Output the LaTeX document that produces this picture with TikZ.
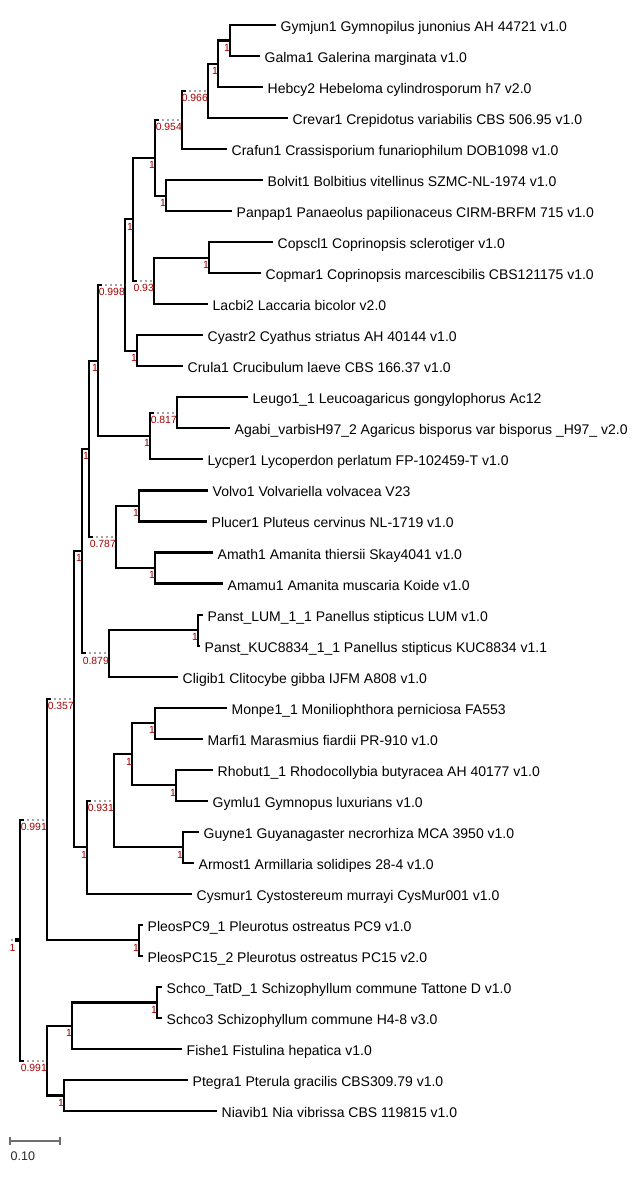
\documentclass[tikz,border=0pt]{standalone}
\usepackage{fontspec}
\setmainfont{Liberation Sans}
\usepackage{tikz}
\usetikzlibrary{calc}
\definecolor{suppred}{RGB}{165,0,0}
\definecolor{dotgrey}{RGB}{165,165,165}
\definecolor{bargrey}{RGB}{110,110,110}
\pgfmathdeclarefunction{ry}{1}{\pgfmathparse{25+31.03*#1}}

\begin{document}
\begin{tikzpicture}[
        x=1pt, y=-1pt,
        branch/.style={line width=2.1pt},
        weakbranch/.style={line width=2.1pt, dotgrey, dash pattern=on 2pt off 3pt},
        leaf/.style={anchor=base west, inner sep=0pt, font=\fontsize{14}{16}\selectfont},
        support/.style={anchor=base east, inner sep=0pt, text=suppred, font=\fontsize{10.4}{12}\selectfont},
        scalebar/.style={line width=1.3pt, bargrey}
    ]
        \useasboundingbox (0,0) rectangle (639,1186);
        % leaf tips
        \coordinate (gymjun) at (276,{ry(0)});
        \coordinate (galma) at (260,{ry(1)});
        \coordinate (hebcy) at (263,{ry(2)});
        \coordinate (crevar) at (288,{ry(3)});
        \coordinate (crafun) at (227,{ry(4)});
        \coordinate (bolvit) at (263,{ry(5)});
        \coordinate (panpap) at (232,{ry(6)});
        \coordinate (copscl) at (273,{ry(7)});
        \coordinate (copmar) at (261,{ry(8)});
        \coordinate (lacbi) at (208,{ry(9)});
        \coordinate (cyastr) at (203,{ry(10)});
        \coordinate (crula) at (183,{ry(11)});
        \coordinate (leugo) at (248,{ry(12)});
        \coordinate (agabi) at (230,{ry(13)});
        \coordinate (lycper) at (203,{ry(14)});
        \coordinate (volvo) at (208,{ry(15)});
        \coordinate (plucer) at (207,{ry(16)});
        \coordinate (amath) at (213,{ry(17)});
        \coordinate (amamu) at (223,{ry(18)});
        \coordinate (panstlum) at (203,{ry(19)});
        \coordinate (panstkuc) at (200,{ry(20)});
        \coordinate (cligib) at (178,{ry(21)});
        \coordinate (monpe) at (227,{ry(22)});
        \coordinate (marfi) at (203,{ry(23)});
        \coordinate (rhobut) at (213,{ry(24)});
        \coordinate (gymlu) at (208,{ry(25)});
        \coordinate (guyne) at (199,{ry(26)});
        \coordinate (armost) at (194,{ry(27)});
        \coordinate (cysmur) at (192,{ry(28)});
        \coordinate (pleosnine) at (143,{ry(29)});
        \coordinate (pleosfifteen) at (143,{ry(30)});
        \coordinate (schcotatd) at (162,{ry(31)});
        \coordinate (schcothree) at (162,{ry(32)});
        \coordinate (fishe) at (182,{ry(33)});
        \coordinate (ptegra) at (188,{ry(34)});
        \coordinate (niavib) at (217,{ry(35)});
        % inner nodes
        \coordinate (nA) at (230,{ry(0.5)});
        \coordinate (nB) at (218,{ry(1.25)});
        \coordinate (nC) at (208,{ry(2.125)});
        \coordinate (nD) at (182,{ry(3.0625)});
        \coordinate (nE) at (166,{ry(5.5)});
        \coordinate (nF) at (155,{ry(4.281)});
        \coordinate (nG) at (209,{ry(7.5)});
        \coordinate (nH) at (154,{ry(8.25)});
        \coordinate (nI) at (133,{ry(6.266)});
        \coordinate (nJ) at (137,{ry(10.5)});
        \coordinate (nK) at (125,{ry(8.383)});
        \coordinate (nL) at (177,{ry(12.5)});
        \coordinate (nM) at (150,{ry(13.25)});
        \coordinate (nN) at (98,{ry(10.816)});
        \coordinate (nO) at (139,{ry(15.5)});
        \coordinate (nP) at (155,{ry(17.5)});
        \coordinate (nQ) at (116,{ry(16.5)});
        \coordinate (nR) at (89,{ry(13.658)});
        \coordinate (nS) at (198,{ry(19.5)});
        \coordinate (nT) at (109,{ry(20.25)});
        \coordinate (nU) at (82,{ry(16.954)});
        \coordinate (nV) at (155,{ry(22.5)});
        \coordinate (nW) at (176,{ry(24.5)});
        \coordinate (nX) at (132,{ry(23.5)});
        \coordinate (nY) at (183,{ry(26.5)});
        \coordinate (nZ) at (114,{ry(25)});
        \coordinate (nAA) at (87,{ry(26.5)});
        \coordinate (nAB) at (74,{ry(21.727)});
        \coordinate (nPL) at (139,{ry(29.5)});
        \coordinate (nAC) at (47,{ry(25.614)});
        \coordinate (nSC) at (157,{ry(31.5)});
        \coordinate (nAD) at (72,{ry(32.25)});
        \coordinate (nAE) at (64,{ry(34.5)});
        \coordinate (nAF) at (47,{ry(33.375)});
        \coordinate (root) at (20,{ry(29.494)});
        % branches
        \draw[branch] (gymjun) -| (nA) |- (galma);
        \draw[branch] (nA) -| (nB) |- (hebcy);
        \draw[branch] (nB) -| (nC) |- (crevar);
        \draw[branch] ($(nD |- nC)+(4,0)$) -| (nD) |- (crafun);
        \draw[weakbranch] ($(nD |- nC)+(7,0)$) -- (nC);
        \draw[branch] (bolvit) -| (nE) |- (panpap);
        \draw[branch] ($(nF |- nD)+(4,0)$) -| (nF) |- (nE);
        \draw[weakbranch] ($(nF |- nD)+(7,0)$) -- (nD);
        \draw[branch] (copscl) -| (nG) |- (copmar);
        \draw[branch] (nG) -| (nH) |- (lacbi);
        \draw[branch] (nF) -| (nI) |- ($(nI |- nH)+(4,0)$);
        \draw[weakbranch] ($(nI |- nH)+(7,0)$) -- (nH);
        \draw[branch] (cyastr) -| (nJ) |- (crula);
        \draw[branch] (nI) -| (nK) |- (nJ);
        \draw[branch] (leugo) -| (nL) |- (agabi);
        \draw[branch] ($(nM |- nL)+(4,0)$) -| (nM) |- (lycper);
        \draw[weakbranch] ($(nM |- nL)+(7,0)$) -- (nL);
        \draw[branch] ($(nN |- nK)+(4,0)$) -| (nN) |- (nM);
        \draw[weakbranch] ($(nN |- nK)+(7,0)$) -- (nK);
        \draw[branch] (volvo) -| (nO) |- (plucer);
        \draw[branch] (amath) -| (nP) |- (amamu);
        \draw[branch] (nO) -| (nQ) |- (nP);
        \draw[branch] (nN) -| (nR) |- ($(nR |- nQ)+(4,0)$);
        \draw[weakbranch] ($(nR |- nQ)+(7,0)$) -- (nQ);
        \draw[branch] (panstlum) -| (nS) |- (panstkuc);
        \draw[branch] (nS) -| (nT) |- (cligib);
        \draw[branch] (nR) -| (nU) |- ($(nU |- nT)+(4,0)$);
        \draw[weakbranch] ($(nU |- nT)+(7,0)$) -- (nT);
        \draw[branch] (monpe) -| (nV) |- (marfi);
        \draw[branch] (rhobut) -| (nW) |- (gymlu);
        \draw[branch] (nV) -| (nX) |- (nW);
        \draw[branch] (guyne) -| (nY) |- (armost);
        \draw[branch] (nX) -| (nZ) |- (nY);
        \draw[branch] ($(nAA |- nZ)+(4,0)$) -| (nAA) |- (cysmur);
        \draw[weakbranch] ($(nAA |- nZ)+(7,0)$) -- (nZ);
        \draw[branch] (nU) -| (nAB) |- (nAA);
        \draw[branch] (pleosnine) -| (nPL) |- (pleosfifteen);
        \draw[branch] ($(nAC |- nAB)+(4,0)$) -| (nAC) |- (nPL);
        \draw[weakbranch] ($(nAC |- nAB)+(7,0)$) -- (nAB);
        \draw[branch] (schcotatd) -| (nSC) |- (schcothree);
        \draw[branch] (nSC) -| (nAD) |- (fishe);
        \draw[branch] (ptegra) -| (nAE) |- (niavib);
        \draw[branch] (nAD) -| (nAF) |- (nAE);
        \draw[branch] ($(root |- nAC)+(4,0)$) -| (root) |- ($(root |- nAF)+(4,0)$);
        \draw[weakbranch] ($(root |- nAC)+(7,0)$) -- (nAC);
        \draw[weakbranch] ($(root |- nAF)+(7,0)$) -- (nAF);
        \fill (root) ++(-5,-2) rectangle ++(4,4);
        \draw[weakbranch] ($(root)+(-7,0)$) -- ($(root)+(-12,0)$);
        % support values
        \node[support] (lA) at ($(nA)+(0,10.8)$) {1};
        \node[support] (lB) at ($(nB)+(0,10.8)$) {1};
        \node[support] (lC) at ($(nC)+(0,10.8)$) {0.966};
        \node[support] (lD) at ($(nD)+(0,10.8)$) {0.954};
        \node[support] (lE) at ($(nE)+(0,10.8)$) {1};
        \node[support] (lF) at ($(nF)+(0,10.8)$) {1};
        \node[support] (lG) at ($(nG)+(0,10.8)$) {1};
        \node[support] (lH) at ($(nH)+(0,10.8)$) {0.93};
        \node[support] (lI) at ($(nI)+(0,10.8)$) {1};
        \node[support] (lJ) at ($(nJ)+(0,10.8)$) {1};
        \node[support] (lK) at ($(nK)+(0,10.8)$) {0.998};
        \node[support] (lL) at ($(nL)+(0,10.8)$) {0.817};
        \node[support] (lM) at ($(nM)+(0,10.8)$) {1};
        \node[support] (lN) at ($(nN)+(0,10.8)$) {1};
        \node[support] (lO) at ($(nO)+(0,10.8)$) {1};
        \node[support] (lP) at ($(nP)+(0,10.8)$) {1};
        \node[support] (lQ) at ($(nQ)+(0,10.8)$) {0.787};
        \node[support] (lR) at ($(nR)+(0,10.8)$) {1};
        \node[support] (lS) at ($(nS)+(0,10.8)$) {1};
        \node[support] (lT) at ($(nT)+(0,10.8)$) {0.879};
        \node[support] (lU) at ($(nU)+(0,10.8)$) {1};
        \node[support] (lV) at ($(nV)+(0,10.8)$) {1};
        \node[support] (lW) at ($(nW)+(0,10.8)$) {1};
        \node[support] (lX) at ($(nX)+(0,10.8)$) {1};
        \node[support] (lY) at ($(nY)+(0,10.8)$) {1};
        \node[support] (lZ) at ($(nZ)+(0,10.8)$) {0.931};
        \node[support] (lAA) at ($(nAA)+(0,10.8)$) {1};
        \node[support] (lAB) at ($(nAB)+(0,10.8)$) {0.357};
        \node[support] (lPL) at ($(nPL)+(0,10.8)$) {1};
        \node[support] (lAC) at ($(nAC)+(0,10.8)$) {0.991};
        \node[support] (lSC) at ($(nSC)+(0,10.8)$) {1};
        \node[support] (lAD) at ($(nAD)+(0,10.8)$) {1};
        \node[support] (lAE) at ($(nAE)+(0,10.8)$) {1};
        \node[support] (lAF) at ($(nAF)+(0,10.8)$) {0.991};
        \node[support] (lroot) at ($(root)+(-4.5,10.8)$) {1};
        % taxa
        \node[leaf] (tgymjun) at ($(gymjun)+(4.5,6.5)$) {Gymjun1 Gymnopilus junonius AH 44721 v1.0};
        \node[leaf] (tgalma) at ($(galma)+(4.5,6.5)$) {Galma1 Galerina marginata v1.0};
        \node[leaf] (thebcy) at ($(hebcy)+(4.5,6.5)$) {Hebcy2 Hebeloma cylindrosporum h7 v2.0};
        \node[leaf] (tcrevar) at ($(crevar)+(4.5,6.5)$) {Crevar1 Crepidotus variabilis CBS 506.95 v1.0};
        \node[leaf] (tcrafun) at ($(crafun)+(4.5,6.5)$) {Crafun1 Crassisporium funariophilum DOB1098 v1.0};
        \node[leaf] (tbolvit) at ($(bolvit)+(4.5,6.5)$) {Bolvit1 Bolbitius vitellinus SZMC-NL-1974 v1.0};
        \node[leaf] (tpanpap) at ($(panpap)+(4.5,6.5)$) {Panpap1 Panaeolus papilionaceus CIRM-BRFM 715 v1.0};
        \node[leaf] (tcopscl) at ($(copscl)+(4.5,6.5)$) {Copscl1 Coprinopsis sclerotiger v1.0};
        \node[leaf] (tcopmar) at ($(copmar)+(4.5,6.5)$) {Copmar1 Coprinopsis marcescibilis CBS121175 v1.0};
        \node[leaf] (tlacbi) at ($(lacbi)+(4.5,6.5)$) {Lacbi2 Laccaria bicolor v2.0};
        \node[leaf] (tcyastr) at ($(cyastr)+(4.5,6.5)$) {Cyastr2 Cyathus striatus AH 40144 v1.0};
        \node[leaf] (tcrula) at ($(crula)+(4.5,6.5)$) {Crula1 Crucibulum laeve CBS 166.37 v1.0};
        \node[leaf] (tleugo) at ($(leugo)+(4.5,6.5)$) {Leugo1\_1 Leucoagaricus gongylophorus Ac12};
        \node[leaf] (tagabi) at ($(agabi)+(4.5,6.5)$) {Agabi\_varbisH97\_2 Agaricus bisporus var bisporus \_H97\_ v2.0};
        \node[leaf] (tlycper) at ($(lycper)+(4.5,6.5)$) {Lycper1 Lycoperdon perlatum FP-102459-T v1.0};
        \node[leaf] (tvolvo) at ($(volvo)+(4.5,6.5)$) {Volvo1 Volvariella volvacea V23};
        \node[leaf] (tplucer) at ($(plucer)+(4.5,6.5)$) {Plucer1 Pluteus cervinus NL-1719 v1.0};
        \node[leaf] (tamath) at ($(amath)+(4.5,6.5)$) {Amath1 Amanita thiersii Skay4041 v1.0};
        \node[leaf] (tamamu) at ($(amamu)+(4.5,6.5)$) {Amamu1 Amanita muscaria Koide v1.0};
        \node[leaf] (tpanstlum) at ($(panstlum)+(4.5,6.5)$) {Panst\_LUM\_1\_1 Panellus stipticus LUM v1.0};
        \node[leaf] (tpanstkuc) at ($(panstkuc)+(4.5,6.5)$) {Panst\_KUC8834\_1\_1 Panellus stipticus KUC8834 v1.1};
        \node[leaf] (tcligib) at ($(cligib)+(4.5,6.5)$) {Cligib1 Clitocybe gibba IJFM A808 v1.0};
        \node[leaf] (tmonpe) at ($(monpe)+(4.5,6.5)$) {Monpe1\_1 Moniliophthora perniciosa FA553};
        \node[leaf] (tmarfi) at ($(marfi)+(4.5,6.5)$) {Marfi1 Marasmius fiardii PR-910 v1.0};
        \node[leaf] (trhobut) at ($(rhobut)+(4.5,6.5)$) {Rhobut1\_1 Rhodocollybia butyracea AH 40177 v1.0};
        \node[leaf] (tgymlu) at ($(gymlu)+(4.5,6.5)$) {Gymlu1 Gymnopus luxurians v1.0};
        \node[leaf] (tguyne) at ($(guyne)+(4.5,6.5)$) {Guyne1 Guyanagaster necrorhiza MCA 3950 v1.0};
        \node[leaf] (tarmost) at ($(armost)+(4.5,6.5)$) {Armost1 Armillaria solidipes 28-4 v1.0};
        \node[leaf] (tcysmur) at ($(cysmur)+(4.5,6.5)$) {Cysmur1 Cystostereum murrayi CysMur001 v1.0};
        \node[leaf] (tpleosnine) at ($(pleosnine)+(4.5,6.5)$) {PleosPC9\_1 Pleurotus ostreatus PC9 v1.0};
        \node[leaf] (tpleosfifteen) at ($(pleosfifteen)+(4.5,6.5)$) {PleosPC15\_2 Pleurotus ostreatus PC15 v2.0};
        \node[leaf] (tschcotatd) at ($(schcotatd)+(4.5,6.5)$) {Schco\_TatD\_1 Schizophyllum commune Tattone D v1.0};
        \node[leaf] (tschcothree) at ($(schcothree)+(4.5,6.5)$) {Schco3 Schizophyllum commune H4-8 v3.0};
        \node[leaf] (tfishe) at ($(fishe)+(4.5,6.5)$) {Fishe1 Fistulina hepatica v1.0};
        \node[leaf] (tptegra) at ($(ptegra)+(4.5,6.5)$) {Ptegra1 Pterula gracilis CBS309.79 v1.0};
        \node[leaf] (tniavib) at ($(niavib)+(4.5,6.5)$) {Niavib1 Nia vibrissa CBS 119815 v1.0};
        % scale bar
        \coordinate (sbleft) at (10,1141);
        \coordinate (sbright) at (60,1141);
        \draw[scalebar] (sbleft) -- (sbright);
        \draw[scalebar] ($(sbleft)+(0,-4)$) -- ($(sbleft)+(0,4)$);
        \draw[scalebar] ($(sbright)+(0,-4)$) -- ($(sbright)+(0,4)$);
        \node[anchor=base west, inner sep=0pt, font=\fontsize{12.5}{14}\selectfont, text=black!85] (sblbl) at (10.5,1160) {0.10};
    \end{tikzpicture}
\end{document}
